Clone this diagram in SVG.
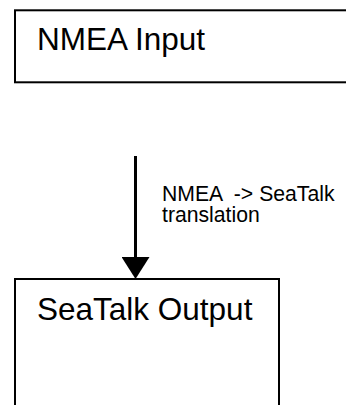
<svg xmlns="http://www.w3.org/2000/svg" width="346" height="405" viewBox="0 0 346 405">
<style>
.box{fill:#fff;stroke:#000;stroke-width:2}
.big{font-family:"Liberation Sans",Arial,sans-serif;font-size:31.5px;fill:#000}
.lbl{font-family:"Liberation Sans",Arial,sans-serif;font-size:21.2px;fill:#000}
.conn{stroke:#000;stroke-width:3;fill:none}
</style>
<defs>
<marker id="arr" markerUnits="userSpaceOnUse" markerWidth="22" markerHeight="28" refX="13" refY="14" orient="auto" viewBox="0 0 22 28">
<path d="M0,0 L22,14 L0,28 Z" fill="#000"/>
</marker>
</defs>
<rect width="346" height="405" fill="#fff"/>
<g id="node-nmea-input">
<rect class="box" x="15" y="10.3" width="340" height="72"/>
<text class="big" x="37" y="49.5">NMEA Input</text>
</g>
<g id="node-seatalk-output">
<rect class="box" x="15" y="279" width="264" height="140"/>
<text class="big" x="37" y="319.5">SeaTalk Output</text>
</g>
<g id="connectors">
<line class="conn" x1="135.5" y1="156" x2="135.5" y2="270" marker-end="url(#arr)"/>
<text class="lbl" x="162" y="201" xml:space="preserve">NMEA  -&gt; SeaTalk</text>
<text class="lbl" x="162" y="222.3">translation</text>
</g>
</svg>
